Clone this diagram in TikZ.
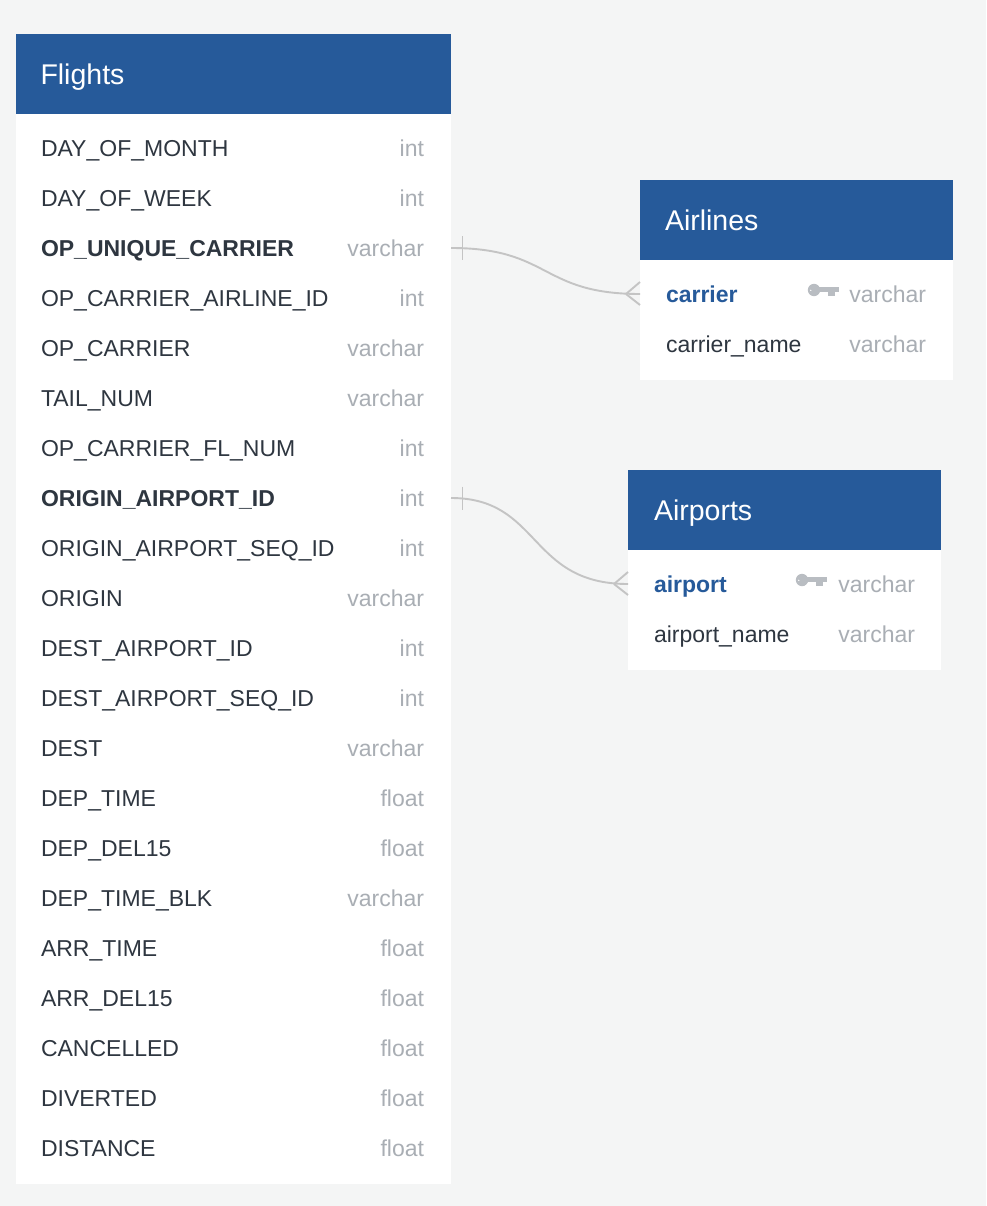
\documentclass[tikz,border=0pt]{standalone}
\usepackage{fontspec}
\setmainfont{Liberation Sans}
\usepackage{tikz}

\definecolor{hdrblue}{HTML}{265A9A}
\definecolor{inkdark}{HTML}{2E3640}
\definecolor{typegrey}{HTML}{A9AEB4}
\definecolor{keygrey}{HTML}{B9BDC2}
\definecolor{linegrey}{HTML}{C4C4C4}
\definecolor{bggrey}{HTML}{F4F5F5}

\begin{document}
\begin{tikzpicture}[x=1pt, y=-1pt,
      every node/.style = {inner sep=0pt, outer sep=0pt},
      tbl/.style = {fill=white, anchor=north west, minimum width=313pt, minimum height=200pt},
      head/.style = {fill=hdrblue, anchor=north west, minimum width=313pt, minimum height=80pt},
      title/.style = {anchor=west, text=white, font=\fontsize{28.5}{34}\selectfont,
        text height=20.5pt, text depth=0pt},
      fld/.style = {anchor=west, text=inkdark, font=\fontsize{23}{28}\selectfont,
        text height=16.5pt, text depth=0pt},
      bfld/.style = {fld, font=\fontsize{23}{28}\selectfont\bfseries},
      pkfld/.style = {bfld, text=hdrblue},
      typ/.style = {fld, anchor=east, text=typegrey},
      rel/.style = {draw=linegrey, line width=1.9pt},
      pkkey/.pic = {
        \fill[keygrey, even odd rule] (0,0) circle (6.2) (-3.2,0.4) circle (1);
        \fill[keygrey] (4,-3.2) rectangle (25,2);
        \fill[keygrey] (14,1) rectangle (20.5,6.3);
      }]
    \fill[bggrey] (0,0) rectangle (986,1206);

    % Flights
    \node[tbl, minimum width=435pt, minimum height=1150pt] (flights) at (16,34) {};
    \node[head, minimum width=435pt] (flights-head) at (16,34) {};
    \node[title] (flights-title) at (40.5,74) {Flights};
    \node[fld] (dom) at (41,148) {DAY\_OF\_MONTH};            \node[typ] (dom-t) at (424,148) {int};
    \node[fld] (dow) at (41,198) {DAY\_OF\_WEEK};             \node[typ] (dow-t) at (424,198) {int};
    \node[bfld] (opuc) at (41,248) {OP\_UNIQUE\_CARRIER};     \node[typ] (opuc-t) at (424,248) {varchar};
    \node[fld] (opcaid) at (41,298) {OP\_CARRIER\_AIRLINE\_ID}; \node[typ] (opcaid-t) at (424,298) {int};
    \node[fld] (opc) at (41,348) {OP\_CARRIER};               \node[typ] (opc-t) at (424,348) {varchar};
    \node[fld] (tail) at (41,398) {TAIL\_NUM};                \node[typ] (tail-t) at (424,398) {varchar};
    \node[fld] (opcfl) at (41,448) {OP\_CARRIER\_FL\_NUM};     \node[typ] (opcfl-t) at (424,448) {int};
    \node[bfld] (oaid) at (41,498) {ORIGIN\_AIRPORT\_ID};      \node[typ] (oaid-t) at (424,498) {int};
    \node[fld] (oasid) at (41,548) {ORIGIN\_AIRPORT\_SEQ\_ID}; \node[typ] (oasid-t) at (424,548) {int};
    \node[fld] (orig) at (41,598) {ORIGIN};                   \node[typ] (orig-t) at (424,598) {varchar};
    \node[fld] (daid) at (41,648) {DEST\_AIRPORT\_ID};        \node[typ] (daid-t) at (424,648) {int};
    \node[fld] (dasid) at (41,698) {DEST\_AIRPORT\_SEQ\_ID};   \node[typ] (dasid-t) at (424,698) {int};
    \node[fld] (dest) at (41,748) {DEST};                     \node[typ] (dest-t) at (424,748) {varchar};
    \node[fld] (dept) at (41,798) {DEP\_TIME};                \node[typ] (dept-t) at (424,798) {float};
    \node[fld] (depd) at (41,848) {DEP\_DEL15};               \node[typ] (depd-t) at (424,848) {float};
    \node[fld] (depb) at (41,898) {DEP\_TIME\_BLK};           \node[typ] (depb-t) at (424,898) {varchar};
    \node[fld] (arrt) at (41,948) {ARR\_TIME};                \node[typ] (arrt-t) at (424,948) {float};
    \node[fld] (arrd) at (41,998) {ARR\_DEL15};               \node[typ] (arrd-t) at (424,998) {float};
    \node[fld] (canc) at (41,1048) {CANCELLED};               \node[typ] (canc-t) at (424,1048) {float};
    \node[fld] (divt) at (41,1098) {DIVERTED};                \node[typ] (divt-t) at (424,1098) {float};
    \node[fld] (dist) at (41,1148) {DISTANCE};                \node[typ] (dist-t) at (424,1148) {float};

    % Airlines
    \node[tbl] (airlines) at (640,180) {};
    \node[head] (airlines-head) at (640,180) {};
    \node[title] (airlines-title) at (665,220) {Airlines};
    \node[pkfld] (carrier) at (666,294) {carrier};            \node[typ] (carrier-t) at (926,294) {varchar};
    \node[fld] (cname) at (666,344) {carrier\_name};          \node[typ] (cname-t) at (926,344) {varchar};
    \pic at (814,290) {pkkey};

    % Airports
    \node[tbl] (airports) at (628,470) {};
    \node[head] (airports-head) at (628,470) {};
    \node[title] (airports-title) at (654,510) {Airports};
    \node[pkfld] (airport) at (654,584) {airport};            \node[typ] (airport-t) at (915,584) {varchar};
    \node[fld] (aname) at (654,634) {airport\_name};          \node[typ] (aname-t) at (915,634) {varchar};
    \pic at (802,580) {pkkey};

    % relations
    \coordinate (opuc-e) at (flights.east |- opuc);
    \coordinate (carrier-w) at (airlines.west |- carrier);
    \coordinate (oaid-e) at (flights.east |- oaid);
    \coordinate (airport-w) at (airports.west |- airport);

    \draw[rel] (opuc-e) .. controls +(100,0) and +(-100,0) .. (carrier-w);
    \draw[rel] ([xshift=11.5pt]opuc-e) ++(0,-11.5) -- ++(0,23);
    \draw[rel] ([xshift=-14pt]carrier-w) -- ++(14,-12);
    \draw[rel] ([xshift=-14pt]carrier-w) -- ++(14,11);

    \draw[rel] (oaid-e) .. controls +(90,0) and +(-100,0) .. (airport-w);
    \draw[rel] ([xshift=11.5pt]oaid-e) ++(0,-11.5) -- ++(0,23);
    \draw[rel] ([xshift=-14pt]airport-w) -- ++(14,-12);
    \draw[rel] ([xshift=-14pt]airport-w) -- ++(14,11);
\end{tikzpicture}
\end{document}
